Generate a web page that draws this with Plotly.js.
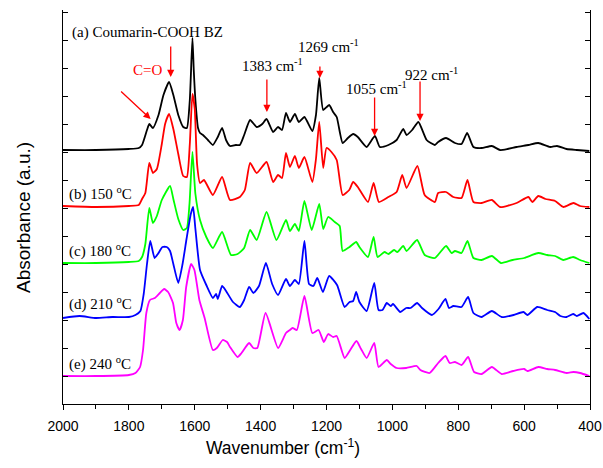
<!DOCTYPE html>
<html>
<head>
<meta charset="utf-8">
<script src="https://cdn.plot.ly/plotly-3.0.1.min.js"></script>
<style>html,body{margin:0;padding:0;background:#fff;}#chart{width:603px;height:468px;}</style>
</head>
<body>
<div id="chart"></div>
<script>
// Wavenumber (cm-1) and absorbance (arbitrary units, stacked) for each sample
var wnA = [2000,1900,1800,1770,1760,1745,1738,1727,1710,1695,1678,1665,1650,1635,1624,1615,1607,1603,1598,1590,1584,1575,1560,1545,1530,1517,1505,1493,1475,1463,1450,1432,1412,1395,1382,1362,1347,1335,1323,1311,1296,1284,1267,1243,1232,1222,1210,1192,1180,1169,1151,1135,1119,1105,1078,1053,1038,1012,987,967,957,940,921,896,871,861,837,810,790,773,754,729,698,673,650,623,587,557,521,500,471,440,402];
var absA = [254,254,255,256,259,274,280,276,289,309,322,309,289,277,276,304,366,334,304,276,271,269,264,259,267,276,264,258,259,259,269,284,277,280,285,272,277,274,291,282,290,282,287,273,289,326,294,299,292,287,261,266,270,267,257,268,257,259,264,275,269,274,282,264,259,262,266,261,260,271,257,256,258,254,255,257,259,261,257,258,255,254,253];

var wnB = [2000,1900,1800,1770,1760,1750,1738,1727,1715,1700,1690,1678,1665,1650,1635,1624,1615,1607,1600,1593,1584,1572,1545,1517,1493,1463,1448,1432,1412,1382,1362,1347,1335,1323,1311,1296,1284,1267,1243,1232,1222,1210,1200,1185,1169,1151,1131,1119,1105,1074,1057,1041,1012,987,970,957,924,902,871,861,837,815,790,772,754,729,698,673,623,587,575,557,535,506,481,450,430,402];
var absB = [198,197,198,199,205,211,241,231,235,260,280,290,275,250,228,227,260,310,295,240,221,224,209,227,204,207,214,241,231,242,222,229,226,251,237,248,236,247,222,245,282,236,256,252,244,209,214,222,217,202,221,202,207,212,229,216,238,209,202,211,212,207,206,224,202,201,204,197,201,207,202,208,205,203,197,201,198,197];

var wnC = [2000,1900,1800,1770,1760,1750,1738,1727,1715,1700,1675,1665,1650,1635,1624,1616,1607,1598,1584,1565,1545,1517,1490,1470,1450,1432,1412,1382,1352,1323,1311,1296,1284,1267,1245,1222,1210,1195,1175,1160,1151,1130,1110,1100,1074,1057,1045,1024,1012,995,985,967,957,925,902,871,837,820,810,790,772,754,729,698,670,635,600,557,530,506,481,451,430,402];
var absC = [141,141,142,143,147,160,196,181,188,204,218,205,185,174,176,200,252,210,184,167,156,172,149,150,156,174,164,192,164,184,173,180,173,203,174,200,175,187,182,178,153,157,162,157,147,167,147,152,150,154,152,158,153,164,149,146,158,151,153,151,163,146,144,148,141,144,146,151,149,148,144,147,144,141];

var wnD = [2000,1950,1900,1850,1800,1780,1765,1755,1745,1735,1722,1712,1698,1685,1675,1665,1650,1637,1625,1612,1605,1598,1584,1565,1545,1535,1530,1517,1505,1484,1463,1450,1435,1422,1405,1384,1365,1347,1323,1311,1296,1284,1267,1253,1240,1228,1211,1192,1168,1145,1130,1119,1110,1100,1078,1055,1042,1030,1017,1005,998,976,958,945,925,910,880,860,839,828,815,790,770,754,729,698,668,632,602,590,560,530,506,490,471,451,440,420,402];
var absD = [86,88,86,87,87,89,93,110,140,163,146,150,157,157,153,140,121,140,165,190,197,175,134,119,106,110,105,118,113,102,97,104,117,111,118,141,120,109,125,118,124,120,163,120,118,126,112,128,119,97,102,103,112,102,93,121,94,94,101,98,100,92,96,96,101,96,89,95,105,96,98,97,107,91,87,93,87,89,92,89,97,94,92,88,87,90,88,91,85];

var wnE = [2000,1900,1800,1780,1766,1757,1747,1736,1721,1706,1693,1681,1666,1656,1646,1636,1626,1611,1601,1586,1570,1545,1533,1515,1502,1493,1470,1458,1435,1422,1410,1385,1347,1323,1311,1303,1290,1267,1243,1224,1208,1195,1180,1169,1145,1128,1109,1095,1078,1055,1042,1017,1005,987,958,926,915,887,861,839,826,810,790,770,752,729,698,668,633,600,590,557,530,506,471,450,430,402];
var absE = [28,28,29,31,37,54,91,104,106,111,115,112,101,81,74,84,117,140,134,104,86,54,56,64,62,57,47,51,61,56,56,91,56,71,74,76,74,108,71,74,62,70,67,68,46,54,63,55,46,61,37,44,40,36,36,38,34,31,41,48,41,42,39,47,32,30,37,30,33,35,33,37,35,34,31,32,31,28];

var seriesNames = ['(a) Coumarin-COOH BZ','(b) 150 °C','(c) 180 °C','(d) 210 °C','(e) 240 °C'];
var seriesColors = ['#000000','#ff0000','#00ff00','#0000ff','#ff00ff'];
var xTickVals = [2000,1800,1600,1400,1200,1000,800,600,400];

var xs = [wnA,wnB,wnC,wnD,wnE];
var ys = [absA,absB,absC,absD,absE];
var traces = xs.map(function(x,i){
  return {x:x,y:ys[i],type:'scatter',mode:'lines',name:seriesNames[i],
    line:{color:seriesColors[i],width:1.8,shape:'spline',smoothing:0.5},hoverinfo:'skip'};
});

var serif = 'Liberation Serif, Times New Roman, serif';
var sans = 'Liberation Sans, Arial, sans-serif';
function label(x,y,text,color,anchor){
  return {x:x,y:y,xref:'x',yref:'y',text:text,showarrow:false,xanchor:anchor||'center',yanchor:'middle',
    font:{family:serif,size:15,color:color||'#000'}};
}
function arrow(x,y,ax,ay){
  return {x:x,y:y,xref:'x',yref:'y',text:'',showarrow:true,ax:ax,ay:ay,arrowcolor:'#ff0000',
    arrowhead:2,arrowsize:1.1,arrowwidth:1.3,standoff:0,startstandoff:0,font:{size:1}};
}
var annotations = [
  label(1979,372,'(a) Coumarin-COOH BZ','#000','left'),
  label(1988,211,'(b) 150 <sup>o</sup>C','#000','left'),
  label(1988,154,'(c) 180 <sup>o</sup>C','#000','left'),
  label(1988,101,'(d) 210 <sup>o</sup>C','#000','left'),
  label(1988,41,'(e) 240 <sup>o</sup>C','#000','left'),
  label(1742,334,'C=O','#ff0000'),
  label(1365,339,'1383 cm<sup>-1</sup>'),
  label(1195,358,'1269 cm<sup>-1</sup>'),
  label(1047,316,'1055 cm<sup>-1</sup>'),
  label(880,330,'922 cm<sup>-1</sup>'),
  arrow(1734,285,-31,-29),
  arrow(1673,327,0,-32),
  arrow(1381,292,0,-34),
  arrow(1220,326,0,-13),
  arrow(1054,268,0,-40),
  arrow(916,283,0,-41),
  // axis titles
  {xref:'paper',yref:'paper',x:0.4175,y:-0.109,text:'Wavenumber (cm<sup>-1</sup>)',showarrow:false,
    xanchor:'center',yanchor:'middle',font:{family:sans,size:17.5,color:'#000'}},
  {xref:'paper',yref:'paper',x:-0.076,y:0.4746,text:'Absorbance (a.u.)',showarrow:false,textangle:-90,
    xanchor:'center',yanchor:'middle',font:{family:sans,size:19,color:'#000'}}
];

var layout = {
  width:603,height:468,
  margin:{l:63,r:13,t:10,b:64},
  paper_bgcolor:'#fff',plot_bgcolor:'#fff',
  showlegend:false,
  font:{family:sans,size:14,color:'#000'},
  xaxis:{range:[2000,400],tickvals:xTickVals,ticks:'outside',ticklen:5,tickwidth:1,tickcolor:'#000',
    ticklabelstandoff:4,
    showline:true,linecolor:'#000',linewidth:1,showgrid:false,zeroline:false,
    minor:{dtick:100,tick0:0,ticks:'outside',ticklen:4,tickcolor:'#000',showgrid:false},
    tickfont:{family:sans,size:14}},
  xaxis2:{overlaying:'x',side:'top',range:[2000,400],dtick:100,tick0:0,ticks:'inside',ticklen:4,tickcolor:'#000',
    showticklabels:false,showline:true,linecolor:'#000',linewidth:1,showgrid:false,zeroline:false},
  yaxis:{range:[0,394],tick0:0,dtick:28,ticks:'inside',ticklen:5,tickcolor:'#000',showticklabels:false,
    showline:true,linecolor:'#000',linewidth:1,mirror:'allticks',showgrid:false,zeroline:false},
  annotations:annotations
};
Plotly.newPlot('chart',traces,layout,{staticPlot:true,displayModeBar:false});
</script>
</body>
</html>
